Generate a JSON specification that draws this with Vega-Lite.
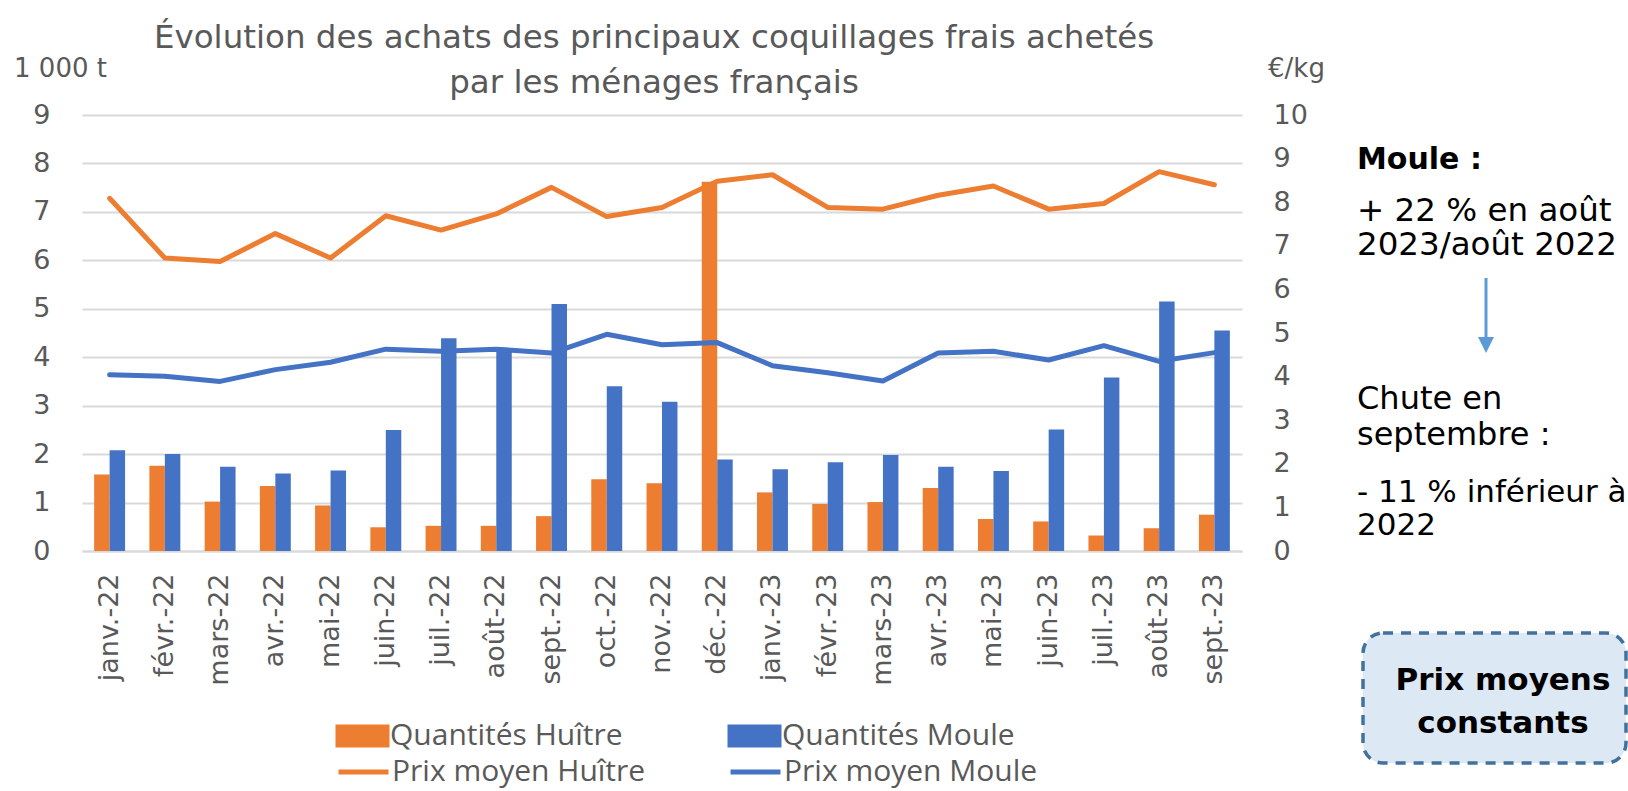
{
  "$schema": "https://vega.github.io/schema/vega-lite/v6.json",
  "background": "white",
  "padding": {"left": 13, "top": 21, "right": 0, "bottom": 0},
  "config": {"view": {"stroke": null}},
  "spacing": 32,
  "hconcat": [
    {
      "width": 1160,
      "height": 436,
      "title": {
        "text": ["Évolution des achats des principaux coquillages frais achetés", "par les ménages français"],
        "font": "DejaVu Sans", "fontSize": 32.5, "fontWeight": "normal", "color": "#595959",
        "anchor": "middle", "frame": "group", "offset": -44, "lineHeight": 45, "dx": -8
      },
      "data": {"values": [
        {"mois": "janv.-22", "Quantités Huître": 1.58, "Quantités Moule": 2.08, "Prix moyen Huître": 8.09, "Prix moyen Moule": 4.04},
        {"mois": "févr.-22", "Quantités Huître": 1.76, "Quantités Moule": 2.00, "Prix moyen Huître": 6.72, "Prix moyen Moule": 4.01},
        {"mois": "mars-22", "Quantités Huître": 1.02, "Quantités Moule": 1.74, "Prix moyen Huître": 6.64, "Prix moyen Moule": 3.89},
        {"mois": "avr.-22", "Quantités Huître": 1.34, "Quantités Moule": 1.60, "Prix moyen Huître": 7.28, "Prix moyen Moule": 4.16},
        {"mois": "mai-22", "Quantités Huître": 0.94, "Quantités Moule": 1.66, "Prix moyen Huître": 6.72, "Prix moyen Moule": 4.33},
        {"mois": "juin-22", "Quantités Huître": 0.49, "Quantités Moule": 2.50, "Prix moyen Huître": 7.69, "Prix moyen Moule": 4.63},
        {"mois": "juil.-22", "Quantités Huître": 0.52, "Quantités Moule": 4.39, "Prix moyen Huître": 7.36, "Prix moyen Moule": 4.58},
        {"mois": "août-22", "Quantités Huître": 0.52, "Quantités Moule": 4.19, "Prix moyen Huître": 7.73, "Prix moyen Moule": 4.63},
        {"mois": "sept.-22", "Quantités Huître": 0.72, "Quantités Moule": 5.10, "Prix moyen Huître": 8.34, "Prix moyen Moule": 4.54},
        {"mois": "oct.-22", "Quantités Huître": 1.48, "Quantités Moule": 3.40, "Prix moyen Huître": 7.67, "Prix moyen Moule": 4.97},
        {"mois": "nov.-22", "Quantités Huître": 1.40, "Quantités Moule": 3.08, "Prix moyen Huître": 7.88, "Prix moyen Moule": 4.73},
        {"mois": "déc.-22", "Quantités Huître": 7.62, "Quantités Moule": 1.89, "Prix moyen Huître": 8.48, "Prix moyen Moule": 4.78},
        {"mois": "janv.-23", "Quantités Huître": 1.21, "Quantités Moule": 1.69, "Prix moyen Huître": 8.63, "Prix moyen Moule": 4.25},
        {"mois": "févr.-23", "Quantités Huître": 0.97, "Quantités Moule": 1.83, "Prix moyen Huître": 7.88, "Prix moyen Moule": 4.09},
        {"mois": "mars-23", "Quantités Huître": 1.01, "Quantités Moule": 1.98, "Prix moyen Huître": 7.84, "Prix moyen Moule": 3.90},
        {"mois": "avr.-23", "Quantités Huître": 1.30, "Quantités Moule": 1.74, "Prix moyen Huître": 8.16, "Prix moyen Moule": 4.54},
        {"mois": "mai-23", "Quantités Huître": 0.66, "Quantités Moule": 1.65, "Prix moyen Huître": 8.37, "Prix moyen Moule": 4.58},
        {"mois": "juin-23", "Quantités Huître": 0.61, "Quantités Moule": 2.51, "Prix moyen Huître": 7.84, "Prix moyen Moule": 4.38},
        {"mois": "juil.-23", "Quantités Huître": 0.32, "Quantités Moule": 3.58, "Prix moyen Huître": 7.97, "Prix moyen Moule": 4.71},
        {"mois": "août-23", "Quantités Huître": 0.47, "Quantités Moule": 5.15, "Prix moyen Huître": 8.70, "Prix moyen Moule": 4.35},
        {"mois": "sept.-23", "Quantités Huître": 0.75, "Quantités Moule": 4.55, "Prix moyen Huître": 8.40, "Prix moyen Moule": 4.55}
      ]},
      "encoding": {
        "x": {
          "field": "mois", "type": "nominal",
          "sort": ["janv.-22","févr.-22","mars-22","avr.-22","mai-22","juin-22","juil.-22","août-22","sept.-22","oct.-22","nov.-22","déc.-22","janv.-23","févr.-23","mars-23","avr.-23","mai-23","juin-23","juil.-23","août-23","sept.-23"],
          "scale": {"paddingInner": 0.44, "paddingOuter": 0.22},
          "axis": {
            "title": null, "labelAngle": -90, "labelAlign": "right", "labelBaseline": "middle",
            "labelPadding": 22, "labelFont": "DejaVu Sans", "labelFontSize": 27, "labelColor": "#595959",
            "ticks": false, "domain": true, "domainColor": "#D9D9D9", "domainWidth": 2, "grid": false
          }
        }
      },
      "layer": [
        {
          "transform": [{"fold": ["Quantités Huître", "Quantités Moule"], "as": ["serie", "valeur"]}],
          "mark": {"type": "bar"},
          "encoding": {
            "xOffset": {"field": "serie", "type": "nominal", "sort": ["Quantités Huître", "Quantités Moule"]},
            "y": {
              "field": "valeur", "type": "quantitative",
              "scale": {"domain": [0, 9], "nice": false},
              "axis": {
                "values": [0,1,2,3,4,5,6,7,8,9], "grid": true, "gridColor": "#D9D9D9", "gridWidth": 2,
                "domain": false, "ticks": false, "labelPadding": 32,
                "labelFont": "DejaVu Sans", "labelFontSize": 27, "labelColor": "#595959",
                "title": "1 000 t", "titleAngle": 0, "titleX": -22, "titleY": -47,
                "titleAlign": "center", "titleBaseline": "middle",
                "titleFont": "DejaVu Sans", "titleFontSize": 26, "titleFontWeight": "normal", "titleColor": "#595959"
              }
            },
            "color": {
              "field": "serie", "type": "nominal",
              "sort": ["Quantités Huître", "Quantités Moule"],
              "scale": {"range": ["#ED7D31", "#4472C4"]},
              "legend": {
                "title": null, "orient": "none", "legendX": 265.5, "legendY": 606,
                "direction": "horizontal", "columns": 2, "columnPadding": 104, "padding": 0,
                "symbolType": "M-2,-0.85H2V0.85H-2Z", "symbolSize": 729, "symbolStrokeWidth": 0,
                "labelFont": "Open Sans", "labelFontSize": 30, "labelColor": "#595959",
                "labelOffset": 12.5, "labelLimit": 0
              }
            }
          }
        },
        {
          "transform": [{"fold": ["Prix moyen Huître", "Prix moyen Moule"], "as": ["serie", "valeur"]}],
          "mark": {"type": "line", "strokeWidth": 5, "strokeCap": "round", "strokeJoin": "round"},
          "encoding": {
            "y": {
              "field": "valeur", "type": "quantitative",
              "scale": {"domain": [0, 10], "nice": false},
              "axis": {
                "orient": "right",
                "values": [0,1,2,3,4,5,6,7,8,9,10], "grid": false,
                "domain": false, "ticks": false, "labelPadding": 31,
                "labelFont": "DejaVu Sans", "labelFontSize": 27, "labelColor": "#595959",
                "title": "€/kg", "titleAngle": 0, "titleX": 54, "titleY": -47,
                "titleAlign": "center", "titleBaseline": "middle",
                "titleFont": "DejaVu Sans", "titleFontSize": 26, "titleFontWeight": "normal", "titleColor": "#595959"
              }
            },
            "stroke": {
              "field": "serie", "type": "nominal",
              "sort": ["Prix moyen Huître", "Prix moyen Moule"],
              "scale": {"range": ["#ED7D31", "#4472C4"]},
              "legend": {
                "title": null, "orient": "none", "legendX": 265.5, "legendY": 641,
                "direction": "horizontal", "columns": 2, "columnPadding": 75, "padding": 0,
                "symbolType": "M-1.85,0H1.85", "symbolSize": 729, "symbolStrokeWidth": 5,
                "labelFont": "Open Sans", "labelFontSize": 30, "labelColor": "#595959",
                "labelOffset": 12.5, "labelLimit": 0
              }
            }
          }
        }
      ],
      "resolve": {"scale": {"y": "independent"}}
    },
    {
      "width": 270,
      "height": 675,
      "data": {"values": [{"note": "commentaire"}]},
      "layer": [
        {
          "mark": {"type": "rect", "cornerRadius": 20, "fill": "#DDE8F5", "stroke": "#41719C", "strokeWidth": 3.5, "strokeDash": [10, 8]},
          "encoding": {
            "x": {"datum": 6, "type": "quantitative", "scale": {"domain": [0, 270], "nice": false, "zero": false}, "axis": null},
            "x2": {"datum": 269},
            "y": {"datum": 518, "type": "quantitative", "scale": {"domain": [0, 675], "nice": false, "zero": false, "reverse": true}, "axis": null},
            "y2": {"datum": 648}
          }
        },
        {
          "mark": {"type": "rule", "color": "#5B9BD5", "strokeWidth": 3},
          "encoding": {
            "x": {"datum": 129, "type": "quantitative"},
            "y": {"datum": 163, "type": "quantitative"},
            "y2": {"datum": 224}
          }
        },
        {
          "mark": {"type": "point", "shape": "M-1,-1L1,-1L0,1Z", "size": 256, "filled": true, "color": "#5B9BD5", "opacity": 1},
          "encoding": {
            "x": {"datum": 129, "type": "quantitative"},
            "y": {"datum": 230, "type": "quantitative"}
          }
        },
        {
          "mark": {"type": "text", "align": "left", "baseline": "alphabetic", "font": "DejaVu Sans", "fontSize": 30, "fontWeight": "bold", "color": "#000000"},
          "encoding": {"x": {"datum": 0, "type": "quantitative"}, "y": {"datum": 54, "type": "quantitative"}, "text": {"value": "Moule :"}}
        },
        {
          "mark": {"type": "text", "align": "left", "baseline": "alphabetic", "font": "DejaVu Sans", "fontSize": 32.5, "color": "#000000"},
          "encoding": {"x": {"datum": 0, "type": "quantitative"}, "y": {"datum": 106, "type": "quantitative"}, "text": {"value": "+ 22 % en août"}}
        },
        {
          "mark": {"type": "text", "align": "left", "baseline": "alphabetic", "font": "DejaVu Sans", "fontSize": 32.5, "color": "#000000"},
          "encoding": {"x": {"datum": 0, "type": "quantitative"}, "y": {"datum": 140, "type": "quantitative"}, "text": {"value": "2023/août 2022"}}
        },
        {
          "mark": {"type": "text", "align": "left", "baseline": "alphabetic", "font": "DejaVu Sans", "fontSize": 32, "color": "#000000"},
          "encoding": {"x": {"datum": 0, "type": "quantitative"}, "y": {"datum": 294, "type": "quantitative"}, "text": {"value": "Chute en"}}
        },
        {
          "mark": {"type": "text", "align": "left", "baseline": "alphabetic", "font": "DejaVu Sans", "fontSize": 32, "color": "#000000"},
          "encoding": {"x": {"datum": 0, "type": "quantitative"}, "y": {"datum": 330, "type": "quantitative"}, "text": {"value": "septembre :"}}
        },
        {
          "mark": {"type": "text", "align": "left", "baseline": "alphabetic", "font": "DejaVu Sans", "fontSize": 31, "color": "#000000"},
          "encoding": {"x": {"datum": 0, "type": "quantitative"}, "y": {"datum": 387, "type": "quantitative"}, "text": {"value": "- 11 % inférieur à"}}
        },
        {
          "mark": {"type": "text", "align": "left", "baseline": "alphabetic", "font": "DejaVu Sans", "fontSize": 31, "color": "#000000"},
          "encoding": {"x": {"datum": 0, "type": "quantitative"}, "y": {"datum": 420, "type": "quantitative"}, "text": {"value": "2022"}}
        },
        {
          "mark": {"type": "text", "align": "center", "baseline": "alphabetic", "font": "DejaVu Sans", "fontSize": 31, "fontWeight": "bold", "color": "#000000"},
          "encoding": {"x": {"datum": 146, "type": "quantitative"}, "y": {"datum": 575, "type": "quantitative"}, "text": {"value": "Prix moyens"}}
        },
        {
          "mark": {"type": "text", "align": "center", "baseline": "alphabetic", "font": "DejaVu Sans", "fontSize": 31, "fontWeight": "bold", "color": "#000000"},
          "encoding": {"x": {"datum": 146, "type": "quantitative"}, "y": {"datum": 618, "type": "quantitative"}, "text": {"value": "constants"}}
        }
      ]
    }
  ]
}
